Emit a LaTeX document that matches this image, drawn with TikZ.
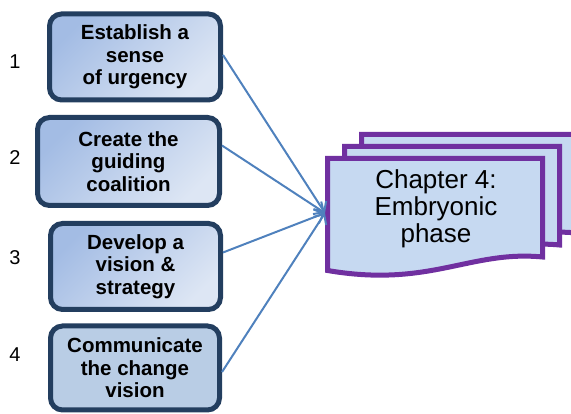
\documentclass[tikz,border=0pt]{standalone}
\usepackage{fontspec}
\setmainfont{Liberation Sans}
\usetikzlibrary{positioning,arrows.meta}
\definecolor{boxdark}{HTML}{A3BCE4}
\definecolor{boxlight}{HTML}{DDE6F4}
\definecolor{boxflat}{HTML}{B9CDE5}
\definecolor{boxline}{HTML}{233E5F}
\definecolor{flowblue}{HTML}{4F81BD}
\definecolor{docline}{HTML}{7030A0}
\definecolor{docfill}{HTML}{C6D9F1}
\tikzset{
  stepbox/.style={draw=boxline,line width=5pt,rounded corners=12pt,
            align=center,font=\fontsize{20.5}{22.5}\selectfont\bfseries,
            top color=boxdark,bottom color=boxlight,shading angle=45,
            inner sep=2pt},
  stepflat/.style={stepbox,shade=false,fill=boxflat},
  stepnum/.style={font=\fontsize{20}{22}\selectfont},
  flow/.style={-{Straight Barb[length=8pt,width=15pt]},line width=2pt,flowblue},
  docpage/.style={draw=docline,line width=5pt,fill=docfill,line join=miter},
}
\begin{document}
\begin{tikzpicture}[x=1pt,y=-1pt]
  \useasboundingbox (0,0) rectangle (571,414);
  % chapter pages, back to front
  \foreach \dx/\dy in {34/-24,17/-12,0/0}{
    \draw[docpage,shift={(\dx,\dy)}] (327.5,158.5) -- (542.5,158.5) -- (542.5,257)
      .. controls (470,250) and (430,288) .. (327.5,270.5) -- cycle;
  }
  \node[font=\fontsize{26}{27}\selectfont,align=center] (doc) at (436,209)
       {Chapter 4:\\Embryonic\\phase};
  \coordinate (hub) at (325,213);

  \node[stepbox,minimum width=171pt,minimum height=86pt] (b1) at (135,57)
       {Establish a\\sense\\of urgency};
  \node[stepbox,minimum width=182pt,minimum height=88pt] (b2) at (128.5,161.5)
       {Create the\\guiding\\coalition};
  \node[stepbox,minimum width=170pt,minimum height=86pt] (b3) at (135.5,266.5)
       {Develop a\\vision \&\\strategy};
  \node[stepflat,minimum width=169pt,minimum height=84pt] (b4) at (135,368)
       {Communicate\\the change\\vision};

  \node[stepnum] (n1) at (15,62) {1};
  \node[stepnum] (n2) at (15,158) {2};
  \node[stepnum] (n3) at (15,258) {3};
  \node[stepnum] (n4) at (15,355) {4};

  \draw[flow] ([yshift=2pt]b1.east) -- (hub);
  \draw[flow] ([yshift=16pt]b2.east) -- (hub);
  \draw[flow] ([yshift=14pt]b3.east) -- (hub);
  \draw[flow] ([yshift=-4pt]b4.east) -- (hub);
\end{tikzpicture}
\end{document}
